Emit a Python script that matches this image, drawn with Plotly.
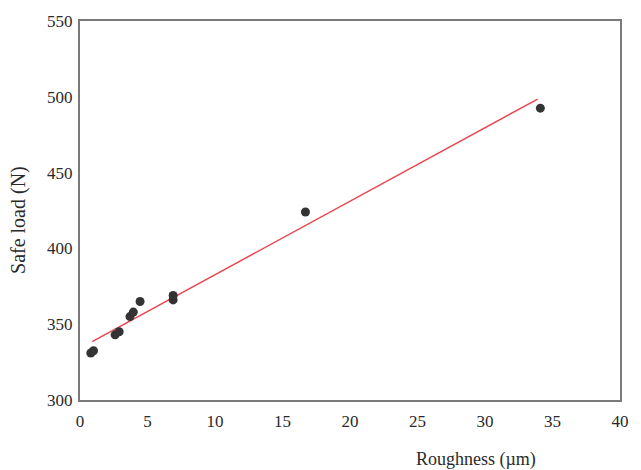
import plotly.graph_objects as go

# Measured samples: surface roughness vs. safe load
roughness = [0.8, 1.0, 2.6, 2.9, 3.7, 3.95, 4.45, 6.9, 6.9, 16.7, 34.1]
safe_load = [331.0, 332.5, 343.0, 345.0, 355.0, 358.0, 365.0, 366.0, 369.0, 424.0, 492.5]

# Linear trend line endpoints
fit_x = [0.9, 33.9]
fit_y = [338.5, 498.5]

x_ticks = [0, 5, 10, 15, 20, 25, 30, 35, 40]
y_ticks = [300, 350, 400, 450, 500, 550]

serif = "Liberation Serif, Times New Roman, serif"
axis_col = "#7a7a7a"
text_col = "#2a2a2a"

fig = go.Figure()
fig.add_trace(go.Scatter(
    x=fit_x, y=fit_y, mode="lines",
    line=dict(color="#e8474f", width=1.5),
    showlegend=False, hoverinfo="skip",
))
fig.add_trace(go.Scatter(
    x=roughness, y=safe_load, mode="markers",
    marker=dict(color="#333333", size=9),
    showlegend=False,
))

fig.update_xaxes(
    range=[0, 40], tickvals=x_ticks, ticks="",
    showgrid=False, zeroline=False,
    showline=True, linecolor=axis_col, linewidth=2, mirror=True,
    tickfont=dict(family=serif, size=17, color=text_col),
    ticklabelstandoff=5,
)
fig.update_yaxes(
    range=[300, 550], tickvals=y_ticks, ticks="",
    showgrid=False, zeroline=False,
    showline=True, linecolor=axis_col, linewidth=2, mirror=True,
    tickfont=dict(family=serif, size=17, color=text_col),
    ticklabelstandoff=2,
)

# Axis titles
fig.add_annotation(
    text="Roughness (µm)", xref="paper", yref="paper",
    x=0.848, y=0, xanchor="right", yanchor="top", yshift=-47,
    showarrow=False, font=dict(family=serif, size=18, color=text_col),
)
fig.add_annotation(
    text="Safe load (N)", xref="paper", yref="paper",
    x=0, y=0.475, xanchor="center", yanchor="middle", xshift=-61,
    textangle=-90, showarrow=False,
    font=dict(family=serif, size=20, color=text_col),
)

fig.update_layout(
    width=641, height=470,
    margin=dict(l=80, r=13, t=19, b=70),
    paper_bgcolor="white", plot_bgcolor="white",
)

fig.write_html("out.html")
